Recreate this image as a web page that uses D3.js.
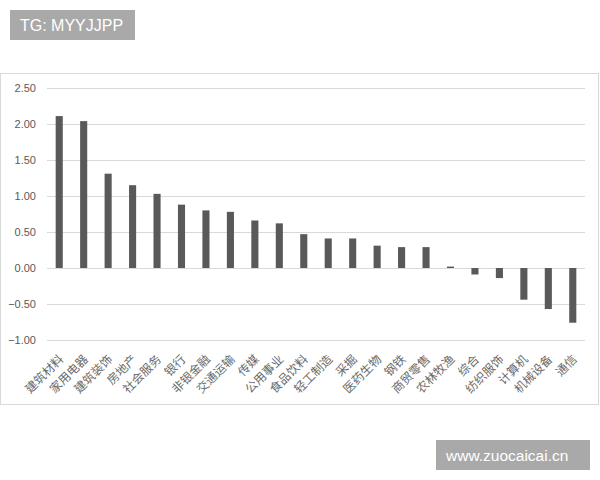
<!DOCTYPE html>
<html>
<head>
<meta charset="utf-8">
<script src="https://cdn.jsdelivr.net/npm/d3@7"></script>
<style>
  body { margin: 0; background: #fff; }
  svg { display: block; }
</style>
</head>
<body>
<div id="chart"></div>
<script>
// industry names and their values
const categories = ["建筑材料", "家用电器", "建筑装饰", "房地产", "社会服务", "银行", "非银金融",
    "交通运输", "传媒", "公用事业", "食品饮料", "轻工制造", "采掘", "医药生物", "钢铁",
    "商贸零售", "农林牧渔", "综合", "纺织服饰", "计算机", "机械设备", "通信"];
const values = [2.11, 2.04, 1.31, 1.15, 1.03, 0.88, 0.80, 0.78, 0.66, 0.62, 0.47, 0.41, 0.41,
    0.31, 0.29, 0.29, 0.02, -0.09, -0.14, -0.44, -0.57, -0.76];
const yTicks = [2.5, 2.0, 1.5, 1.0, 0.5, 0.0, -0.5, -1.0];

const W = 600, H = 480;
const svg = d3.select('#chart').append('svg')
    .attr('width', W)
    .attr('height', H);

// chart frame
svg.append('rect')
    .attr('x', 0.5).attr('y', 73.5)
    .attr('width', 598).attr('height', 331)
    .attr('fill', '#fff')
    .attr('stroke', '#d9d9d9');

const x = d3.scaleBand()
    .domain(categories)
    .range([47, 585])
    .paddingInner(0.71)
    .paddingOuter(0.355);

const y = d3.scaleLinear()
    .domain([-1, 2.5])
    .range([340, 88]);

// gridlines
svg.append('g')
    .selectAll('line')
    .data(yTicks)
    .join('line')
    .attr('x1', 47).attr('x2', 585)
    .attr('y1', d => Math.round(y(d)) + 0.5)
    .attr('y2', d => Math.round(y(d)) + 0.5)
    .attr('stroke', '#d9d9d9')
    .attr('stroke-width', 1);

// y labels
const yAxis = svg.append('g')
    .attr('transform', 'translate(36,0)')
    .call(d3.axisLeft(y).tickValues(yTicks).tickFormat(d3.format('.2f')).tickSize(0).tickPadding(0));
yAxis.select('.domain').remove();
yAxis.selectAll('text')
    .attr('fill', '#595959')
    .style('font-family', '"Liberation Sans", Arial, sans-serif')
    .style('font-size', '11px');

// bars
svg.append('g')
    .selectAll('rect')
    .data(values)
    .join('rect')
    .attr('x', (d, i) => x(categories[i]))
    .attr('width', x.bandwidth())
    .attr('y', d => y(Math.max(0, d)))
    .attr('height', d => Math.abs(y(d) - y(0)))
    .attr('fill', '#595959');

// category labels, rotated
svg.append('g')
    .selectAll('text')
    .data(categories)
    .join('text')
    .attr('transform', d => `translate(${x(d) + x.bandwidth() / 2 + 5},360) rotate(-45)`)
    .attr('text-anchor', 'end')
    .attr('fill', '#6a6a6a')
    .style('font-family', '"Noto Sans CJK SC", sans-serif')
    .style('font-size', '12px')
    .text(d => d);

// watermarks
svg.append('rect')
    .attr('x', 10).attr('y', 10).attr('width', 125).attr('height', 30)
    .attr('fill', '#a9a9a9');
svg.append('text')
    .attr('x', 20).attr('y', 31)
    .attr('fill', '#fff')
    .style('font-family', '"Liberation Sans", Arial, sans-serif')
    .style('font-size', '16px')
    .text('TG: MYYJJPP');

svg.append('rect')
    .attr('x', 436).attr('y', 440).attr('width', 154).attr('height', 30)
    .attr('fill', '#a9a9a9');
svg.append('text')
    .attr('x', 446).attr('y', 461)
    .attr('fill', '#fff')
    .style('font-family', '"Liberation Sans", Arial, sans-serif')
    .style('font-size', '15.5px')
    .text('www.zuocaicai.cn');
</script>
</body>
</html>
